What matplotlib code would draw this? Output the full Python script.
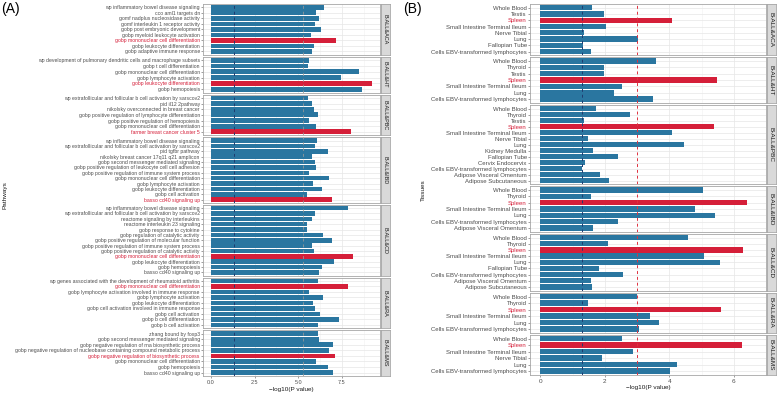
import numpy as np
import matplotlib
matplotlib.use("Agg")
import matplotlib.pyplot as plt

plt.rcParams['font.family'] = ['Liberation Sans', 'DejaVu Sans']

# ---- Panel A: pathways ----
groups = ["B-ALL&ACA", "B-ALL&HT", "B-ALL&PBC", "B-ALL&IBD", "B-ALL&CD", "B-ALL&RA", "B-ALL&MS"]

aca_terms = ["wp inflammatory bowel disease signaling", "cco aml1 targets dn",
             "gomf nadplus nucleosidase activity", "gomf interleukin 1 receptor activity",
             "gobp post embryonic development", "gobp myeloid leukocyte activation",
             "gobp mononuclear cell differentiation", "gobp leukocyte differentiation",
             "gobp adaptive immune response"]
aca_vals = [6.46, 6.02, 6.17, 5.98, 6.30, 5.75, 7.18, 5.92, 5.79]

ht_terms = ["wp development of pulmonary dendritic cells and macrophage subsets",
            "gobp t cell differentiation", "gobp mononuclear cell differentiation",
            "gobp lymphocyte activation", "gobp leukocyte differentiation", "gobp hemopoiesis"]
ht_vals = [5.60, 5.58, 8.49, 7.48, 9.23, 8.68]

pbc_terms = ["wp extrafollicular and follicular b cell activation by sarscov2",
             "pid il12 2pathway", "nikolsky overconnected in breast cancer",
             "gobp positive regulation of lymphocyte differentiation",
             "gobp positive regulation of hemopoiesis",
             "gobp mononuclear cell differentiation", "farmer breast cancer cluster 5"]
pbc_vals = [5.58, 5.79, 5.92, 6.13, 5.64, 6.04, 8.01]

ibd_terms = ["wp inflammatory bowel disease signaling",
             "wp extrafollicular and follicular b cell activation by sarscov2",
             "pid tgfbr pathway", "nikolsky breast cancer 17q11 q21 amplicon",
             "gobp second messenger mediated signaling",
             "gobp positive regulation of leukocyte cell cell adhesion",
             "gobp positive regulation of immune system process",
             "gobp mononuclear cell differentiation", "gobp lymphocyte activation",
             "gobp leukocyte differentiation", "gobp cell activation", "basso cd40 signaling up"]
ibd_vals = [6.09, 5.98, 6.70, 5.77, 5.98, 6.04, 5.60, 6.74, 5.87, 6.38, 5.51, 6.91]

cd_terms = ["wp inflammatory bowel disease signaling",
            "wp extrafollicular and follicular b cell activation by sarscov2",
            "reactome signaling by interleukins", "reactome interleukin 23 signaling",
            "gobp response to cytokine", "gobp regulation of catalytic activity",
            "gobp positive regulation of molecular function",
            "gobp positive regulation of immune system process",
            "gobp positive regulation of catalytic activity",
            "gobp mononuclear cell differentiation", "gobp leukocyte differentiation",
            "gobp hemopoiesis", "basso cd40 signaling up"]
cd_vals = [7.86, 5.94, 5.77, 5.53, 5.53, 6.40, 6.93, 5.79, 5.92, 8.15, 7.06, 6.34, 6.17]

ra_terms = ["wp genes associated with the development of rheumatoid arthritis",
            "gobp mononuclear cell differentiation",
            "gobp lymphocyte activation involved in immune response",
            "gobp lymphocyte activation", "gobp leukocyte differentiation",
            "gobp cell activation involved in immune response", "gobp cell activation",
            "gobp b cell differentiation", "gobp b cell activation"]
ra_vals = [6.11, 7.88, 5.62, 6.40, 5.87, 5.98, 6.27, 7.33, 6.11]

ms_terms = ["zhang bound by foxp3", "gobp second messenger mediated signaling",
            "gobp negative regulation of rna biosynthetic process",
            "gobp negative regulation of nucleobase containing compound metabolic process",
            "gobp negative regulation of biosynthetic process",
            "gobp mononuclear cell differentiation", "gobp hemopoiesis",
            "basso cd40 signaling up"]
ms_vals = [6.13, 6.17, 6.99, 6.78, 7.10, 6.04, 6.68, 7.01]

# ---- Panel B: tissues ----
t_aca = ["Whole Blood", "Testis", "Spleen", "Small Intestine Terminal Ileum", "Nerve Tibial",
         "Lung", "Fallopian Tube", "Cells EBV-transformed lymphocytes"]
v_aca = [1.61, 1.98, 4.07, 2.04, 1.37, 3.04, 1.31, 1.56]

t_ht = ["Whole Blood", "Thyroid", "Testis", "Spleen", "Small Intestine Terminal Ileum",
        "Lung", "Cells EBV-transformed lymphocytes"]
v_ht = [3.60, 1.97, 1.97, 5.47, 2.52, 2.29, 3.48]

t_pbc = ["Whole Blood", "Thyroid", "Testis", "Spleen", "Small Intestine Terminal Ileum",
         "Nerve Tibial", "Lung", "Kidney Medulla", "Fallopian Tube", "Cervix Endocervix",
         "Cells EBV-transformed lymphocytes", "Adipose Visceral Omentum", "Adipose Subcutaneous"]
v_pbc = [1.74, 2.77, 1.37, 5.39, 4.08, 1.47, 4.45, 1.62, 2.42, 1.40, 1.30, 1.84, 2.14]

t_ibd = ["Whole Blood", "Thyroid", "Spleen", "Small Intestine Terminal Ileum", "Lung",
         "Cells EBV-transformed lymphocytes", "Adipose Visceral Omentum"]
v_ibd = [5.04, 1.56, 6.40, 4.81, 5.42, 2.42, 1.63]

t_cd = ["Whole Blood", "Thyroid", "Spleen", "Small Intestine Terminal Ileum", "Lung",
        "Fallopian Tube", "Cells EBV-transformed lymphocytes", "Adipose Visceral Omentum",
        "Adipose Subcutaneous"]
v_cd = [4.57, 2.10, 6.29, 5.08, 5.57, 1.82, 2.56, 1.57, 1.60]

t_ra = ["Whole Blood", "Thyroid", "Spleen", "Small Intestine Terminal Ileum", "Lung",
        "Cells EBV-transformed lymphocytes"]
v_ra = [2.99, 1.49, 5.60, 3.40, 3.68, 3.06]

t_ms = ["Whole Blood", "Spleen", "Small Intestine Terminal Ileum", "Nerve Tibial", "Lung",
        "Cells EBV-transformed lymphocytes"]
v_ms = [2.52, 6.25, 2.89, 1.92, 4.25, 4.03]

panel_a = list(zip(groups, [aca_terms, ht_terms, pbc_terms, ibd_terms, cd_terms, ra_terms, ms_terms],
                   [aca_vals, ht_vals, pbc_vals, ibd_vals, cd_vals, ra_vals, ms_vals]))
panel_b = list(zip(groups, [t_aca, t_ht, t_pbc, t_ibd, t_cd, t_ra, t_ms],
                   [v_aca, v_ht, v_pbc, v_ibd, v_cd, v_ra, v_ms]))

BLUE = "#2a76a0"
RED = "#d51f39"
W, H = 777, 394

fig = plt.figure(figsize=(W / 100, H / 100), dpi=100)


def px_axes(x0, y0, x1, y1):
    # pixel box measured from the top-left corner
    return fig.add_axes([x0 / W, 1 - y1 / H, (x1 - x0) / W, (y1 - y0) / H])


def draw_panel(data, x0, x1, top, bottom, xlim, xticks, xticklabels, fsize, vlines):
    gap = 2.0
    total = sum(len(t) + 1.2 for _, t, _ in data)
    unit = (bottom - top - gap * (len(data) - 1)) / total
    y = top
    axes = []
    for name, terms, vals in data:
        n = len(terms)
        h = (n + 1.2) * unit
        ax = px_axes(x0, y, x1, y + h)
        pos = np.arange(n)
        hi = int(np.argmax(vals))
        colors = [RED if i == hi else BLUE for i in range(n)]
        ax.set_axisbelow(True)
        ax.barh(pos, vals, height=0.85, color=colors, zorder=2)
        for xv, col, alpha in vlines:
            ax.axvline(xv, color=col, ls=(0, (3, 3)), lw=0.7, alpha=alpha, zorder=3)
        ax.set_ylim(n - 0.4, -0.6)
        ax.set_xlim(*xlim)
        ax.set_yticks(pos)
        ax.set_yticklabels(terms, fontsize=fsize)
        for i, lab in enumerate(ax.get_yticklabels()):
            lab.set_color(RED if i == hi else "#4d4d4d")
        ax.set_xticks(xticks)
        minor = [(a + b) / 2 for a, b in zip(xticks[:-1], xticks[1:])]
        minor.append(xticks[-1] + (xticks[1] - xticks[0]) / 2)
        ax.set_xticks(minor, minor=True)
        ax.grid(True, which="major", color="#e6e6e6", lw=0.5)
        ax.grid(True, which="minor", axis="x", color="#f2f2f2", lw=0.4)
        ax.tick_params(axis="y", length=1.5, width=0.4, pad=0.8, color="#555555")
        ax.tick_params(axis="x", which="both", length=0)
        for s in ax.spines.values():
            s.set_color("#a6a6a6")
            s.set_linewidth(0.6)
        ax.set_xticklabels([])
        # facet strip
        sax = px_axes(x1 + 1, y, x1 + 10, y + h)
        sax.set_facecolor("#d9d9d9")
        sax.set_xticks([])
        sax.set_yticks([])
        for s in sax.spines.values():
            s.set_color("#a6a6a6")
            s.set_linewidth(0.6)
        sax.text(0.5, 0.5, name, rotation=270, ha="center", va="center",
                 fontsize=fsize + 0.3, color="#1a1a1a", transform=sax.transAxes)
        axes.append(ax)
        y += h + gap
    last = axes[-1]
    last.set_xticklabels(xticklabels, fontsize=fsize + 0.3, color="#4d4d4d")
    last.tick_params(axis="x", which="major", length=1.5, width=0.4, pad=1.5, color="#555555")
    return axes


draw_panel(panel_a, 203, 380, 4, 376, (-0.46, 9.69), [0, 2.5, 5.0, 7.5],
           ["0.0", "2.5", "5.0", "7.5"], 3.7,
           [(1.3, "#1f3b6f", 1.0), (5.3, "#9a9a9a", 0.8)])
draw_panel(panel_b, 530, 766, 4, 375, (-0.32, 6.72), [0, 2, 4, 6],
           ["0", "2", "4", "6"], 4.3,
           [(1.3, "#1f3b6f", 1.0), (3.0, "#e0303f", 1.0)])

fig.text(291.5 / W, 1 - 390 / H, "\u2212log10(P value)", ha="center", va="center",
         fontsize=4.6, color="#1a1a1a")
fig.text(648 / W, 1 - 388 / H, "\u2212log10(P value)", ha="center", va="center",
         fontsize=4.6, color="#1a1a1a")
fig.text(5 / W, 1 - 195 / H, "Pathways", rotation=90, ha="center", va="center",
         fontsize=4.6, color="#1a1a1a")
fig.text(423 / W, 1 - 190 / H, "Tissues", rotation=90, ha="center", va="center",
         fontsize=4.6, color="#1a1a1a")
fig.text(1 / W, 1 - 9 / H, "(A)", ha="left", va="center", fontsize=10)
fig.text(403 / W, 1 - 9 / H, "(B)", ha="left", va="center", fontsize=10)

fig.savefig("out.png", dpi=100)
